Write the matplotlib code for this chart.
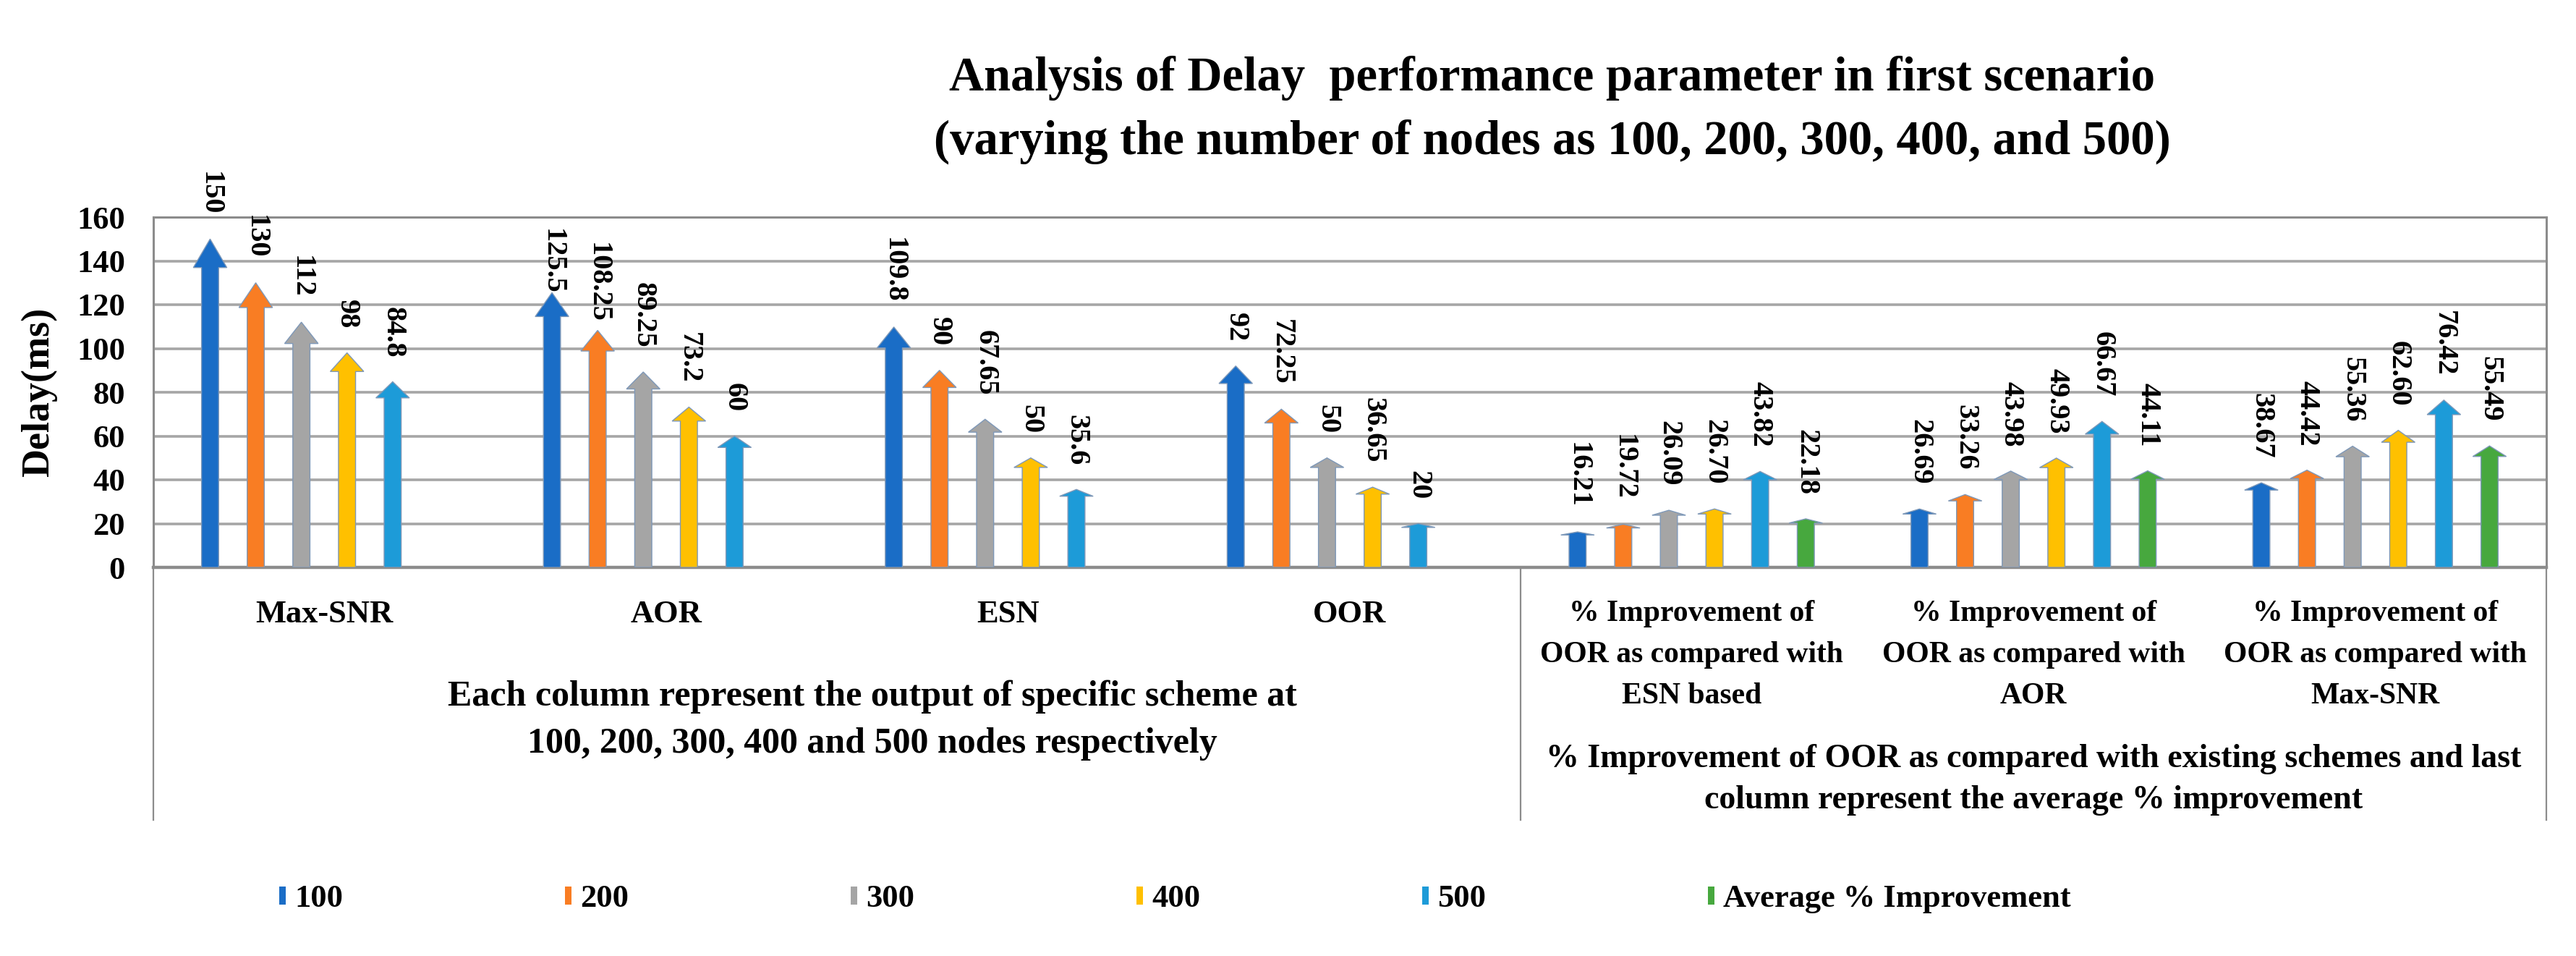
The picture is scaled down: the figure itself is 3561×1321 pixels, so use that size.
import numpy as np
import matplotlib.pyplot as plt
from matplotlib.patches import FancyArrow, Patch

plt.rcParams['font.family'] = ['Liberation Serif', 'DejaVu Serif']
plt.rcParams['font.weight'] = 'bold'

# Dane
categories = ['Max-SNR', 'AOR', 'ESN', 'OOR',
              '% Improvement of\nOOR as compared with\nESN based',
              '% Improvement of\nOOR as compared with\nAOR',
              '% Improvement of\nOOR as compared with\nMax-SNR']
series_names = ['100', '200', '300', '400', '500', 'Average % Improvement']
delay_100 = [150, 125.5, 109.8, 92, 16.21, 26.69, 38.67]
delay_200 = [130, 108.25, 90, 72.25, 19.72, 33.26, 44.42]
delay_300 = [112, 89.25, 67.65, 50, 26.09, 43.98, 55.36]
delay_400 = [98, 73.2, 50, 36.65, 26.70, 49.93, 62.60]
delay_500 = [84.8, 60, 35.6, 20, 43.82, 66.67, 76.42]
avg_improvement = [np.nan, np.nan, np.nan, np.nan, 22.18, 44.11, 55.49]
group_left = ['Each column represent the output of specific scheme at',
              '100, 200, 300, 400 and 500 nodes respectively']
group_right = ['% Improvement of OOR as compared with existing schemes and last',
               'column represent the average % improvement']
title_lines = ['Analysis of Delay  performance parameter in first scenario',
               '(varying the number of nodes as 100, 200, 300, 400, and 500)']

series = [delay_100, delay_200, delay_300, delay_400, delay_500, avg_improvement]
colors = ['#1A6DC6', '#F97D23', '#A5A5A5', '#FFC000', '#1D9BD8', '#47A83E']
# etykiety przesuniete recznie (w punktach)
label_nudge = {(0, 1): -26, (1, 1): -16}

W, H = 3561, 1321
fig = plt.figure(figsize=(W / 100, H / 100), dpi=100)
ax = fig.add_axes([0.0595, 1 - 784 / H, 0.9290, 484 / H])


def yax(px):
    # pozycja pionowa w pikselach obrazu -> ulamek osi
    return -(px - 784) / 484


slot = 0.1335
for i, (vals, col) in enumerate(zip(series, colors)):
    for j, v in enumerate(vals):
        if np.isnan(v):
            continue
        x = j + (i - 2.5) * slot
        ax.add_patch(FancyArrow(x, 0, 0, v, width=0.05, head_width=0.098,
                                head_length=0.087 * v, length_includes_head=True,
                                facecolor=col, edgecolor='#7E98B8', linewidth=1.0,
                                zorder=3))
        txt = f'{v:g}' if j < 4 else f'{v:.2f}'
        off = 24 + label_nudge.get((i, j), 0)
        ax.annotate(txt, xy=(x, v), xytext=(0, off), textcoords='offset points',
                    rotation=-90, ha='center', va='bottom', fontsize=29,
                    fontweight='bold', annotation_clip=False, zorder=4)

ax.set_xlim(-0.5, 6.5)
ax.set_ylim(0, 160)
ax.set_yticks(np.arange(0, 161, 20))
ax.set_xticks([])
ax.tick_params(axis='y', length=0, pad=28, labelsize=32)
for lab in ax.get_yticklabels():
    lab.set_fontweight('bold')
ax.grid(axis='y', color='#A6A6A6', linewidth=2.6, zorder=0)
ax.set_axisbelow(True)
for s in ['top', 'right', 'left']:
    ax.spines[s].set_color('#8C8C8C')
    ax.spines[s].set_linewidth(2.2)
ax.spines['bottom'].set_color('#8C8C8C')
ax.spines['bottom'].set_linewidth(3.2)
ax.set_ylabel('Delay(ms)', fontsize=39, fontweight='bold')
ax.yaxis.set_label_coords(-0.040, 0.5)

# os kategorii (dwa poziomy)
tr = ax.get_xaxis_transform()
for xv in [-0.5, 3.5, 6.5]:
    ax.plot([xv, xv], [0, yax(1133)], transform=tr, color='#8C8C8C',
            linewidth=1.6, clip_on=False)
for j, c in enumerate(categories):
    if j < 4:
        ax.text(j, yax(860), c, transform=tr, ha='center', va='baseline',
                fontsize=32, fontweight='bold')
    else:
        for k, line in enumerate(c.split('\n')):
            ax.text(j, yax(858 + 57 * k), line, transform=tr, ha='center',
                    va='baseline', fontsize=30, fontweight='bold')
for k, line in enumerate(group_left):
    ax.text(1.603, yax(975 + 65 * k), line, transform=tr, ha='center',
            va='baseline', fontsize=36, fontweight='bold')
for k, line in enumerate(group_right):
    ax.text(5, yax(1060 + 57 * k), line, transform=tr, ha='center',
            va='baseline', fontsize=33, fontweight='bold')

for k, line in enumerate(title_lines):
    fig.text(0.6026, 1 - (125 + 88 * k) / H, line, ha='center', va='baseline',
             fontsize=48, fontweight='bold')

handles = [Patch(facecolor=c, edgecolor='none') for c in colors]
fig.legend(handles, series_names, loc='center left', bbox_to_anchor=(0.1084, 1 - 1242 / H),
           ncol=6, frameon=False, fontsize=32, handlelength=0.2, handleheight=0.5,
           handletextpad=0.27, columnspacing=6.91, borderpad=0, borderaxespad=0)

fig.savefig('out.png', dpi=100)
